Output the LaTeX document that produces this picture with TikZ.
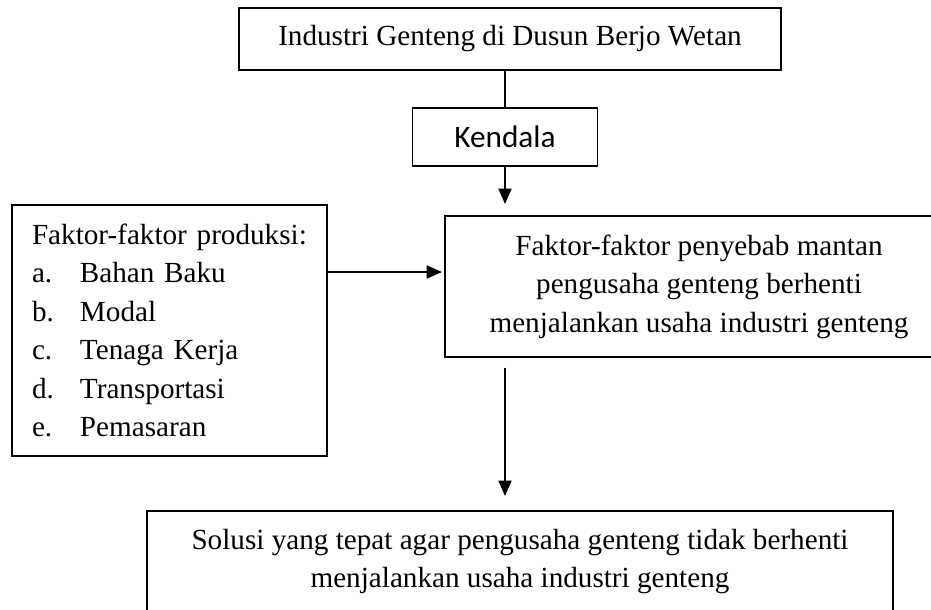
\documentclass[tikz,border=0pt]{standalone}
\usepackage{fontspec}
\setmainfont{Liberation Serif}
\newfontfamily\kendalafont{Carlito}
\usepackage{tikz}
\usetikzlibrary{arrows.meta,positioning}
\tikzstyle{block} = [draw, line width=1.1pt, inner sep=0pt, align=center, font=\fontsize{16.6}{21.9}\selectfont]
\tikzstyle{sansblock} = [draw, line width=1.1pt, inner sep=0pt, minimum width=3.7cm, minimum height=1.16cm, font=\kendalafont\fontsize{17.8}{21.9}\selectfont]
\tikzstyle{listblock} = [draw, line width=1.1pt, inner sep=0pt, minimum width=6.3cm, minimum height=5.02cm, text width=5.5cm, align=left, font=\fontsize{16.6}{21.9}\selectfont]
\tikzstyle{arrow} = [draw, line width=1.1pt, -{Triangle[length=0.31cm,width=0.26cm]}]
\tikzstyle{line} = [draw, line width=1.1pt]
\newcommand{\blocknode}[3]{node (b#1) [block,#2] {#3}}
\newcommand{\kendalanode}[2]{node (k#1) [sansblock] {#2}}
\newcommand{\listnode}[2]{node (l#1) [listblock] {#2}}
\newcommand{\itm}[2]{\makebox[0.96cm][l]{#1}#2}
\begin{document}
\begin{tikzpicture}
\useasboundingbox (0,0) rectangle (18.62,-12.18);
\clip (0,0) rectangle (18.62,-12.18);
\path (10.2,-0.78) \blocknode{1}{minimum width=10.84cm, minimum height=1.24cm}{Industri Genteng di Dusun Berjo Wetan};
\path (b1)+(-0.1,-1.96) \kendalanode{1}{Kendala};
\path [line] (k1.north) -- (k1.north |- b1.south);

\path (k1)+(3.88,-2.99) \blocknode{2}{minimum width=10.16cm, minimum height=2.82cm}{Faktor-faktor penyebab mantan\\pengusaha genteng berhenti\\menjalankan usaha industri genteng};
\path [arrow, shorten >=0.22cm] (k1.south) -- (k1.south |- b2.north);

\path (b2)+(-10.59,-0.88) \listnode{1}{Faktor-faktor produksi:\\
\itm{a.}{Bahan Baku}\\
\itm{b.}{Modal}\\
\itm{c.}{Tenaga Kerja}\\
\itm{d.}{Transportasi}\\
\itm{e.}{Pemasaran}};
\path [arrow, shorten >=0.04cm] ([yshift=1.17cm]l1.east) -- ([yshift=1.17cm]l1.east -| b2.west);

\path (b2)+(-3.58,-5.5) \blocknode{3}{minimum width=14.92cm, minimum height=2.02cm}{Solusi yang tepat agar pengusaha genteng tidak berhenti\\menjalankan usaha industri genteng};
\path [arrow, shorten <=0.2cm, shorten >=0.28cm] (k1.south |- b2.south) -- (k1.south |- b3.north);
\end{tikzpicture}
\end{document}
